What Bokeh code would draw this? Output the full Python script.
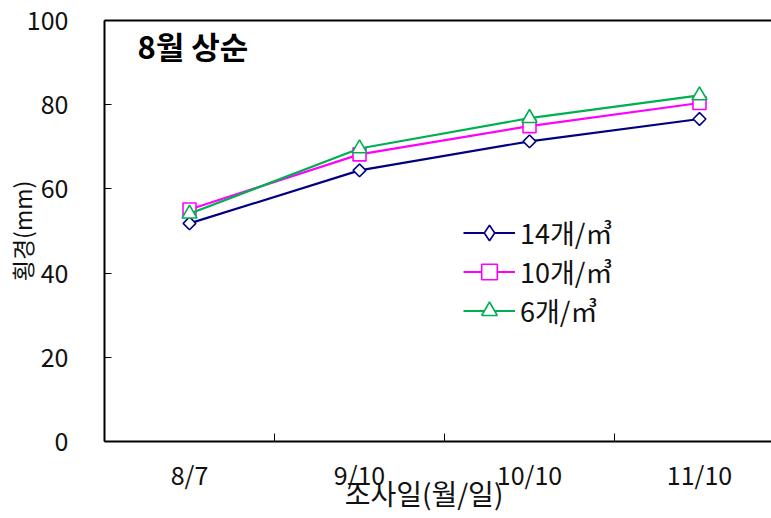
from bokeh.plotting import figure
from bokeh.models import Range1d, FixedTicker, LinearAxis, Label, Legend
from bokeh.embed import file_html
from bokeh.resources import INLINE
import numpy as np

# ---- data ----
dates = ["8/7", "9/10", "10/10", "11/10"]
s14 = [51.8, 64.4, 71.3, 76.6]
s10 = [55.1, 68.2, 74.9, 80.4]
s6 = [54.1, 69.6, 76.8, 82.2]
series_names = ["14개/㎥", "10개/㎥", "6개/㎥"]
y_ticks = [0, 20, 40, 60, 80, 100]

xs = list(range(len(dates)))
FONT = "Noto Sans CJK KR"

p = figure(width=771, height=518, output_backend="svg", toolbar_location=None,
           x_range=Range1d(-0.5, -0.5 + 667 / 170.0), y_range=Range1d(0, 100),
           min_border_left=104, min_border_right=0, min_border_top=20, min_border_bottom=77,
           x_axis_type=None, y_axis_type=None)
p.outline_line_color = None
p.xgrid.visible = False
p.ygrid.visible = False
p.background_fill_color = "white"
p.border_fill_color = "white"
p.extra_x_ranges = {"legend_only": Range1d(1000, 1001)}

# bottom axis
xax = LinearAxis(ticker=FixedTicker(ticks=xs, minor_ticks=[i + 0.5 for i in xs[:-1]]))
xax.major_label_overrides = {i: d for i, d in zip(xs, dates)}
xax.major_tick_line_color = None
xax.minor_tick_in = 8
xax.minor_tick_out = 0
xax.minor_tick_line_color = "black"
xax.minor_tick_line_width = 1
xax.axis_line_color = "black"
xax.axis_line_width = 2
xax.major_label_text_font = FONT
xax.major_label_text_font_size = "25px"
xax.major_label_text_color = "#111111"
xax.major_label_standoff = 8
xax.axis_label = "조사일(월/일)\u3000"
xax.axis_label_text_font = FONT
xax.axis_label_text_font_size = "28px"
xax.axis_label_text_font_style = "normal"
xax.axis_label_text_color = "#111111"
xax.axis_label_standoff = -22
p.add_layout(xax, "below")

# left axis
yax = LinearAxis(ticker=FixedTicker(ticks=y_ticks, minor_ticks=[]))
yax.major_tick_in = 7
yax.major_tick_out = 0
yax.major_tick_line_color = "black"
yax.axis_line_color = "black"
yax.axis_line_width = 2
yax.major_label_text_font = FONT
yax.major_label_text_font_size = "25px"
yax.major_label_text_color = "#111111"
yax.major_label_standoff = 36
yax.axis_label = "횡경(mm)"
yax.axis_label_text_font = FONT
yax.axis_label_text_font_size = "23px"
yax.axis_label_text_font_style = "normal"
yax.axis_label_text_color = "#111111"
yax.axis_label_standoff = -15
p.add_layout(yax, "left")

# top border line
tax = LinearAxis(ticker=FixedTicker(ticks=[], minor_ticks=[]))
tax.axis_line_color = "black"
tax.axis_line_width = 2
tax.major_label_text_font_size = "0px"
tax.major_label_standoff = 0
p.add_layout(tax, "above")

colors = ["#000080", "#FF00FF", "#00B050"]
markers = ["square", "square", "triangle"]
angles = [np.pi / 4, 0, 0]
sizes = [9, 13, 15]
legend_markers = ["diamond", "square", "triangle"]
legend_sizes = [14, 13, 15]
data = [s14, s10, s6]

items = []
for name, ys, c, m, a, s, lm, ls in zip(series_names, data, colors, markers, angles,
                                         sizes, legend_markers, legend_sizes):
    r1 = p.line(xs, ys, line_color=c, line_width=2.2)
    r2 = p.scatter(xs, ys, marker=m, angle=a, size=s, line_color=c,
                   fill_color="white", line_width=1.6)
    # legend swatch renderer (same data, drawn on an off-screen range)
    r3 = p.scatter(xs, ys, marker=lm, size=ls, line_color=c, fill_color="white",
                   line_width=1.6, x_range_name="legend_only")
    items.append((name, [r1, r3]))

legend = Legend(items=items, location=(359, 111), orientation="vertical",
                background_fill_alpha=0, border_line_color=None,
                padding=0, margin=0, spacing=0,
                glyph_width=52, glyph_height=39, label_height=39,
                label_standoff=5,
                label_text_font=FONT, label_text_font_size="27px",
                label_text_color="#111111")
p.add_layout(legend, "center")

# title
p.add_layout(Label(x=-0.306, y=99.4, text="8월 상순", text_font=FONT,
                   text_font_size="31px", text_font_style="bold",
                   text_align="left", text_baseline="top", text_color="black"))

open("out.html", "w").write(file_html(p, INLINE))
